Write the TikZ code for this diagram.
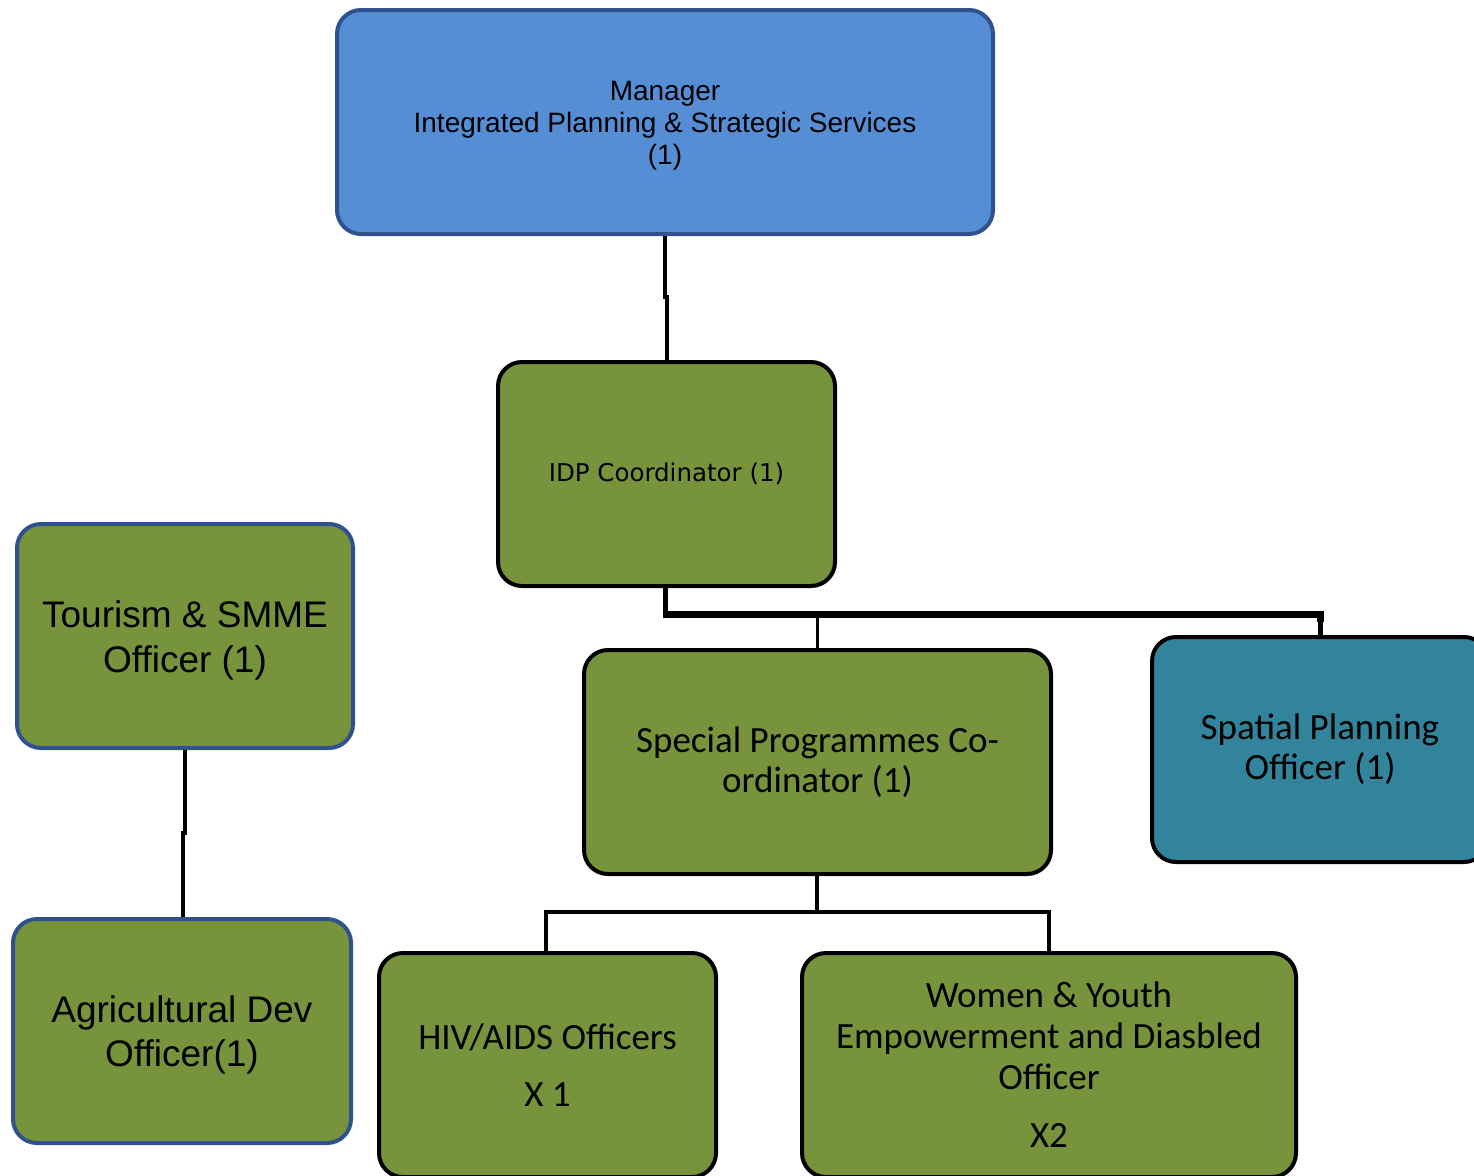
\documentclass[tikz,border=0pt]{standalone}
\usepackage{fontspec}
\setmainfont{Liberation Sans}
\newfontfamily\calibri{Carlito}
\newfontfamily\tahoma{DejaVu Sans}
\definecolor{olive}{HTML}{77933C}
\definecolor{sky}{HTML}{558ED5}
\definecolor{teal}{HTML}{31849B}
\definecolor{navy}{HTML}{2F528F}
% lower a centred text block without changing the node's size
\newcommand{\lowered}[2]{\raisebox{-#1}[\height][\depth]{\begin{tabular}{@{}c@{}}#2\end{tabular}}}
\tikzset{
  box/.style={rectangle, rounded corners=24pt, line width=4pt, align=center, inner sep=0pt},
  link/.style={line width=3.5pt, black},
  thick link/.style={line width=7pt, black},
}
\begin{document}
\begin{tikzpicture}[x=1pt, y=-1pt]
\useasboundingbox (0,0) rectangle (1474,1175);

% Top manager
\node[box, fill=sky, draw=navy, minimum width=656pt, minimum height=224pt,
      font=\fontsize{28}{32}\selectfont] (mgr) at (665,122)
  {\lowered{4pt}{Manager\\Integrated Planning \& Strategic Services\\(1)}};

% Coordinator level
\node[box, fill=olive, draw=black, minimum width=337pt, minimum height=224pt,
      font=\tahoma\fontsize{24.5}{28}\selectfont] (idp) at (666.5,474)
  {IDP Coordinator (1)};

% Stand-alone branch on the left
\node[box, fill=olive, draw=navy, minimum width=336pt, minimum height=224pt,
      font=\fontsize{37}{45}\selectfont] (tour) at (185,636)
  {\lowered{4.5pt}{Tourism \& SMME\\Officer (1)}};
\node[box, fill=olive, draw=navy, minimum width=338pt, minimum height=224pt,
      font=\fontsize{37}{44}\selectfont] (agri) at (182,1031)
  {\lowered{4.5pt}{Agricultural Dev\\Officer(1)}};

% Second level
\node[box, fill=olive, draw=black, minimum width=467pt, minimum height=224pt,
      font=\calibri\fontsize{37}{40}\selectfont] (spc) at (817.5,762)
  {Special Programmes Co-\\ordinator (1)};
\node[box, fill=teal, draw=black, minimum width=336pt, minimum height=225pt,
      font=\calibri\fontsize{37}{40}\selectfont] (spat) at (1320,749.5)
  {\lowered{2pt}{Spatial Planning\\Officer (1)}};

% Third level
\node[box, fill=olive, draw=black, minimum width=337pt, minimum height=224pt,
      font=\calibri\fontsize{37}{57}\selectfont] (hiv) at (547.5,1065)
  {HIV/AIDS Officers\\X 1};
\node[box, fill=olive, draw=black, minimum width=494pt, minimum height=224pt,
      font=\calibri\fontsize{37}{41}\selectfont] (wom) at (1049,1065)
  {Women \& Youth\\Empowerment and Diasbled\\Officer\\[17pt]X2};

% Connectors
\draw[link] (mgr.south -| 665,0) -- (665,297) -- (667,297) -- (idp.north -| 667,0);
\draw[line width=5pt] (idp.south -| 665,0) -- (665,614);
\draw[thick link, line join=miter] (663,614) -- (1320,614) -- (1320,622);
\draw[line width=5pt] (1320,614) -- (spat.north);
\draw[line width=3pt] (817,614) -- (spc.north -| 817,0);
\draw[link] (spc.south -| 817,0) -- (817,912);
\draw[link, line join=miter] (hiv.north -| 546,0) -- (546,912) -- (1049,912) -- (wom.north);
\draw[link] (tour.south -| 185,0) -- (185,833) -- (183,833) -- (agri.north -| 183,0);
\end{tikzpicture}
\end{document}
